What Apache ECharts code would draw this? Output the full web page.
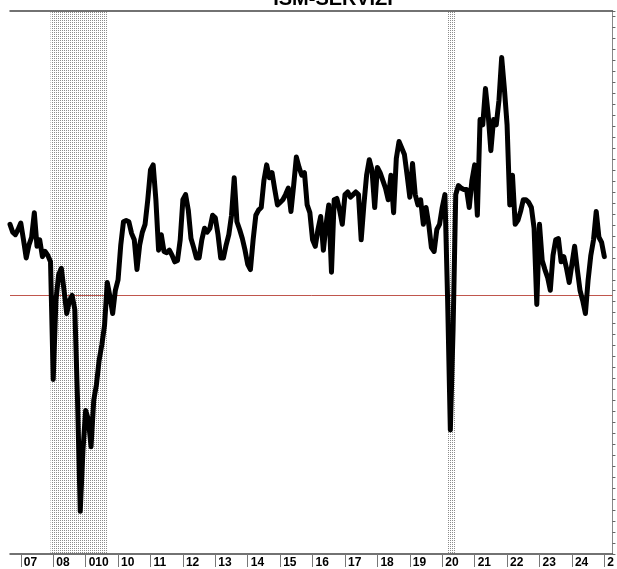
<!DOCTYPE html>
<html>
<head>
<meta charset="utf-8">
<script src="https://cdn.jsdelivr.net/npm/echarts@6/dist/echarts.min.js"></script>
<style>
  html, body { margin: 0; padding: 0; background: #fff; }
  #chart { width: 617px; height: 569px; }
</style>
</head>
<body>
<div id="chart"></div>
<script>
  // monthly index, Sep 2006 .. Jan 2025
  const v2006 = [55.5, 54.9, 54.7, 55.1]
  const v2007 = [55.6, 54.3, 52.9, 53.9, 54.5, 56.4, 53.8, 54.3, 53.0, 53.4, 53.1, 52.6]
  const v2008 = [43.5, 49.6, 51.6, 52.1, 50.4, 48.6, 49.6, 50.0, 48.9, 41.9, 33.3, 38.0]
  const v2009 = [41.1, 40.4, 38.3, 41.9, 43.1, 45.0, 46.2, 47.7, 51.0, 49.9, 48.6, 50.4]
  const v2010 = [51.2, 53.9, 55.7, 55.8, 55.7, 54.8, 54.3, 52.0, 53.9, 54.9, 55.5, 57.4]
  const v2011 = [59.7, 60.1, 57.4, 53.5, 54.7, 53.4, 53.3, 53.5, 53.1, 52.6, 52.7, 54.3]
  const v2012 = [57.4, 57.8, 56.6, 54.4, 53.7, 52.9, 52.9, 54.3, 55.2, 54.9, 55.2, 56.2]
  const v2013 = [56.0, 54.7, 52.9, 52.9, 53.9, 54.7, 56.2, 59.1, 55.7, 55.1, 54.4, 53.5]
  const v2014 = [52.4, 52.0, 54.3, 56.2, 56.6, 56.8, 58.9, 60.1, 59.1, 59.5, 58.2, 57.0]
  const v2015 = [57.2, 57.4, 57.8, 58.3, 56.5, 58.5, 60.7, 59.9, 59.3, 59.5, 57.0, 56.4]
  const v2016 = [54.3, 53.8, 55.1, 56.1, 53.5, 55.5, 57.0, 51.8, 57.4, 57.5, 56.6, 55.5]
  const v2017 = [57.8, 58.0, 57.6, 57.8, 58.0, 57.8, 54.3, 57.0, 59.3, 60.5, 59.7, 56.8]
  const v2018 = [59.9, 59.5, 58.9, 58.3, 57.4, 59.3, 56.4, 60.6, 61.9, 61.4, 60.9, 59.3]
  const v2019 = [57.6, 60.2, 57.8, 57.0, 57.4, 55.5, 56.8, 55.5, 53.7, 53.4, 55.1, 55.5]
  const v2020 = [56.8, 57.8, 49.6, 39.6, 47.3, 57.8, 58.5, 58.3, 58.2, 58.2, 56.8, 58.9]
  const v2021 = [60.1, 56.2, 63.6, 63.2, 66.0, 64.0, 61.2, 63.6, 63.2, 65.1, 68.4, 66.0]
  const v2022 = [63.2, 57.0, 59.3, 55.5, 55.8, 56.5, 57.4, 57.4, 57.2, 56.8, 55.2, 49.3]
  const v2023 = [55.5, 52.7, 52.0, 51.4, 50.4, 53.1, 54.3, 54.4, 52.6, 53.0, 52.1, 51.0]
  const v2024 = [52.4, 53.8, 52.0, 50.4, 49.6, 48.6, 51.2, 53.1, 54.3, 56.5, 54.5, 54.1]
  const v2025 = [53.0]

  const yearLabels = ['07', '08', '010', '10', '11', '12', '13', '14', '15', '16',
    '17', '18', '19', '20', '21', '22', '23', '24', '2']
  const recessions = [['2007-12', '2009-09'], ['2020-03', '2020-06']]
  const threshold = 50

  const series = [].concat(v2006, v2007, v2008, v2009, v2010, v2011, v2012, v2013,
    v2014, v2015, v2016, v2017, v2018, v2019, v2020, v2021, v2022, v2023, v2024, v2025)

  // month categories Sep 2006 .. Apr 2025
  const months = []
  for (let y = 2006, m = 9; y < 2025 || (y === 2025 && m <= 4); m++) {
    if (m > 12) { m = 1; y++ }
    if (y === 2025 && m > 4) break
    months.push(y + '-' + (m < 10 ? '0' + m : m))
  }

  const isJan = (i, v) => v.slice(5) === '01'

  // dotted fill for the shaded periods
  const pat = document.createElement('canvas')
  pat.width = 2
  pat.height = 2
  const pc = pat.getContext('2d')
  pc.fillStyle = '#8c8c8c'
  pc.fillRect(0, 0, 1, 1)

  const chart = echarts.init(document.getElementById('chart'), null, { renderer: 'canvas' })
  chart.setOption({
    animation: false,
    backgroundColor: '#fff',
    textStyle: { fontFamily: 'Liberation Sans, Arial, sans-serif' },
    graphic: [{
      type: 'text',
      z: 10,
      style: {
        text: 'ISM-SERVIZI',
        x: 333,
        y: 9,
        textAlign: 'center',
        textVerticalAlign: 'bottom',
        fontSize: 20,
        fontWeight: 'bold',
        fontFamily: 'Liberation Sans, Arial, sans-serif',
        fill: '#000'
      }
    }],
    grid: { left: 10, right: 3, top: 11, bottom: 13, containLabel: false },
    xAxis: [{
      type: 'category',
      data: months,
      boundaryGap: false,
      axisLine: { lineStyle: { color: '#444', width: 1.5 } },
      axisTick: { interval: isJan, length: 13, lineStyle: { color: '#777' } },
      axisLabel: {
        interval: isJan,
        align: 'left',
        margin: 3,
        padding: [0, 0, 0, 3],
        fontSize: 12,
        fontWeight: 'bold',
        color: '#000',
        formatter: v => yearLabels[+v.slice(0, 4) - 2007]
      },
      splitLine: { show: false }
    }, {
      type: 'category',
      data: months,
      position: 'top',
      boundaryGap: false,
      axisLine: { lineStyle: { color: '#444', width: 1.5 } },
      axisTick: { show: false },
      axisLabel: { show: false }
    }],
    yAxis: [{
      type: 'value',
      min: 30,
      max: 72,
      show: false
    }, {
      type: 'value',
      position: 'right',
      min: 0,
      max: 49.5,
      interval: 1,
      axisLine: { show: true, lineStyle: { color: '#888', width: 1 } },
      axisTick: { show: true, length: 3, lineStyle: { color: '#666' } },
      axisLabel: { show: false },
      splitLine: { show: false }
    }],
    series: [{
      type: 'line',
      data: series,
      symbol: 'none',
      z: 5,
      lineStyle: { color: '#000', width: 5, join: 'round', cap: 'round' },
      markLine: {
        silent: true,
        symbol: 'none',
        label: { show: false },
        emphasis: { disabled: true },
        lineStyle: { color: '#c0564d', width: 1, type: 'solid', opacity: 1 },
        data: [{ yAxis: threshold, lineStyle: { color: '#c0564d' } }]
      },
      markArea: {
        silent: true,
        itemStyle: { color: { image: pat, repeat: 'repeat' } },
        data: recessions.map(r => [{ xAxis: r[0] }, { xAxis: r[1] }])
      }
    }]
  })
</script>
</body>
</html>
